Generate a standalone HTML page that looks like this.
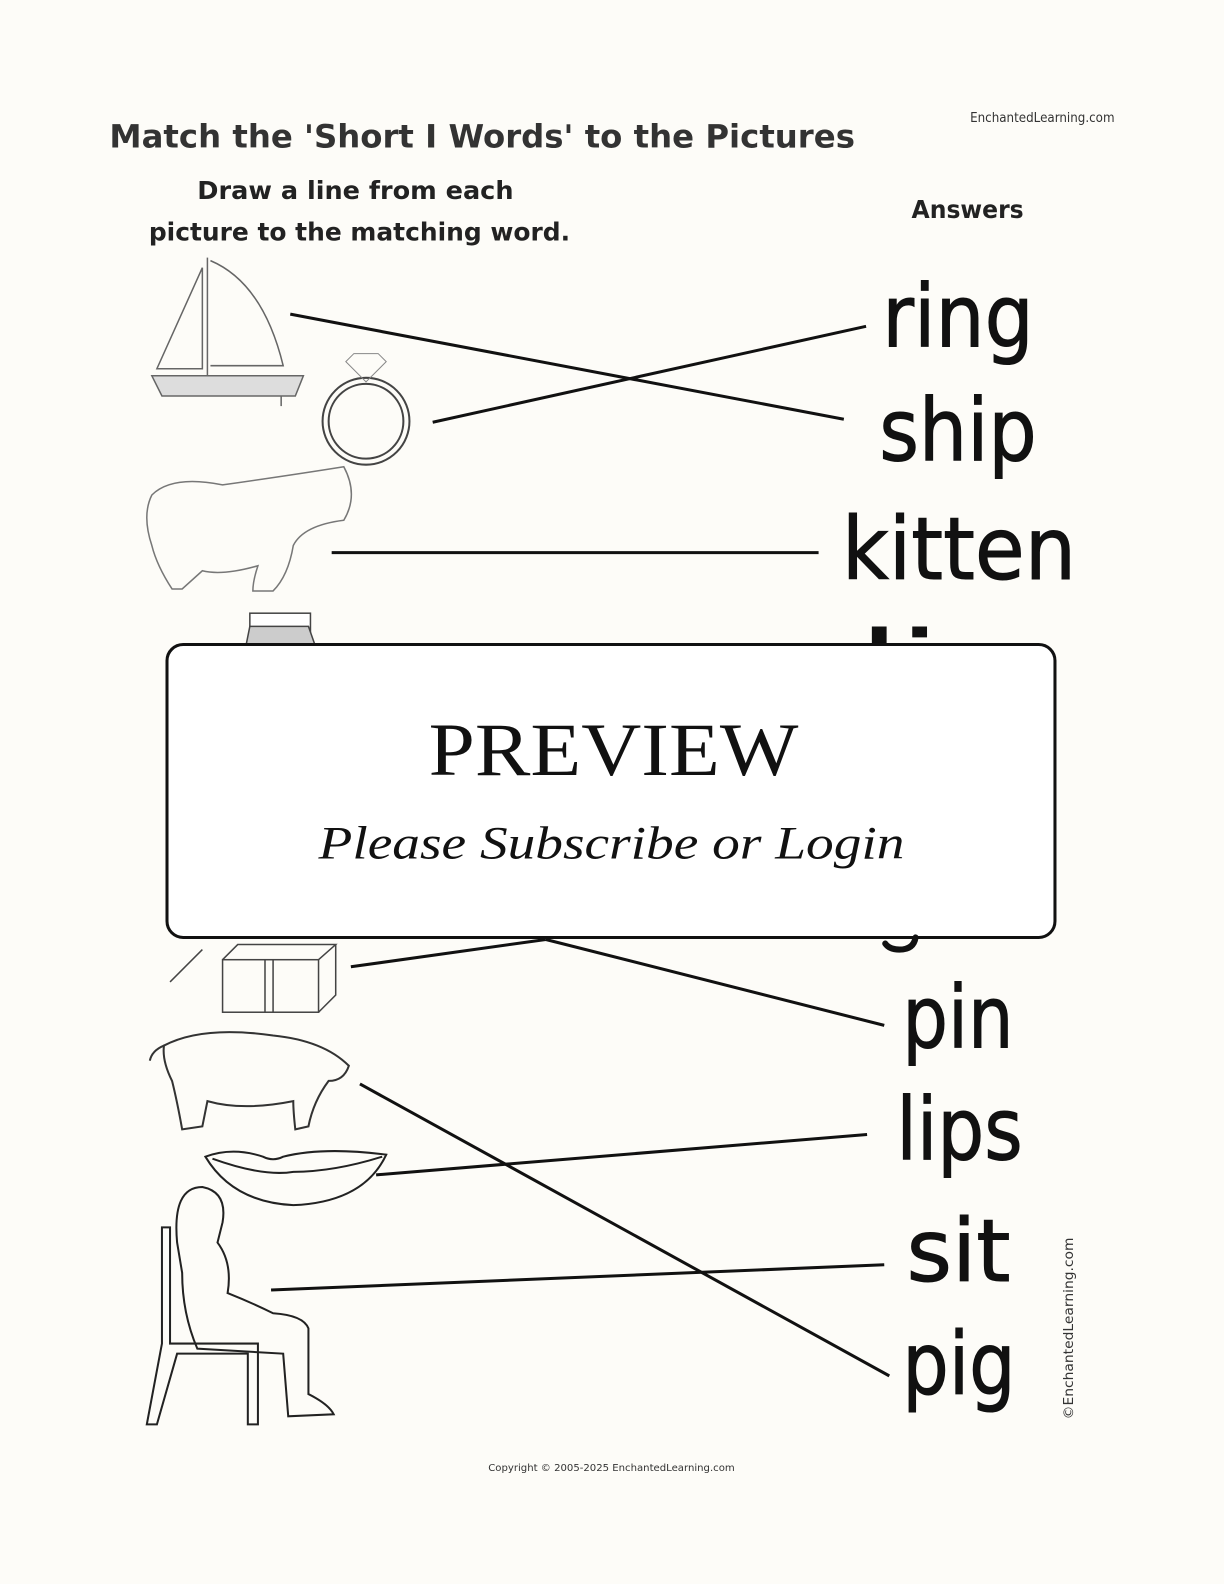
<!DOCTYPE html>
<html><head><meta charset="utf-8"><style>
html,body{margin:0;padding:0;background:#fdfcf8;}
svg{display:block;}
</style></head><body>
<svg width="1224" height="1584" viewBox="0 0 1211 1568" xmlns="http://www.w3.org/2000/svg">
<rect width="1211" height="1568" fill="#fdfcf8"/>
<g font-family="'DejaVu Sans','Liberation Sans',sans-serif" fill="#333">
<text x="108" y="146" font-size="32" font-weight="bold" textLength="738" lengthAdjust="spacingAndGlyphs">Match the 'Short I Words' to the Pictures</text>
<text x="960" y="121" font-size="13" textLength="143" lengthAdjust="spacingAndGlyphs">EnchantedLearning.com</text>
<text x="195" y="197" font-size="25" font-weight="bold" fill="#222" textLength="313" lengthAdjust="spacingAndGlyphs">Draw a line from each</text>
<text x="147" y="238" font-size="25" font-weight="bold" fill="#222" textLength="417" lengthAdjust="spacingAndGlyphs">picture to the matching word.</text>
<text x="902" y="216" font-size="25" font-weight="bold" fill="#222" textLength="111" lengthAdjust="spacingAndGlyphs">Answers</text>
</g>
<g font-family="'DejaVu Sans','Liberation Sans',sans-serif" fill="#111" stroke="#111" stroke-width="1" font-size="86">
<text x="873" y="343" textLength="150" lengthAdjust="spacingAndGlyphs">ring</text>
<text x="870" y="456" textLength="156" lengthAdjust="spacingAndGlyphs">ship</text>
<text x="833" y="573" textLength="232" lengthAdjust="spacingAndGlyphs">kitten</text>
<text x="850" y="686" textLength="80" lengthAdjust="spacingAndGlyphs">li</text>
<text x="893" y="1037" textLength="110" lengthAdjust="spacingAndGlyphs">pin</text>
<text x="887" y="1148" textLength="125" lengthAdjust="spacingAndGlyphs">lips</text>
<text x="897" y="1268" textLength="103" lengthAdjust="spacingAndGlyphs">sit</text>
<text x="893" y="1380" textLength="112" lengthAdjust="spacingAndGlyphs">pig</text>
</g>
<text transform="translate(1062,1405) rotate(-90)" font-family="'DejaVu Sans',sans-serif" font-size="13" fill="#333" textLength="180" lengthAdjust="spacingAndGlyphs">©EnchantedLearning.com</text>
<g stroke="#111" stroke-width="3" fill="none">
<line x1="287" y1="311" x2="835" y2="415"/>
<line x1="428" y1="418" x2="857" y2="323"/>
<line x1="328" y1="547" x2="810" y2="547"/>
<line x1="347" y1="957" x2="540" y2="930"/>
<line x1="540" y1="930" x2="875" y2="1015"/>
<line x1="356" y1="1073" x2="880" y2="1362"/>
<line x1="372" y1="1163" x2="858" y2="1123"/>
<line x1="268" y1="1277" x2="875" y2="1252"/>
</g>
<!-- book peeking -->
<g stroke="#444" stroke-width="1.5">
<rect x="247" y="607" width="60" height="20" fill="#fff"/>
<path d="M243 640 L247 620 L305 620 L312 640 Z" fill="#ccc"/>
</g>
<!-- boat -->
<g stroke="#666" stroke-width="1.5" fill="none">
<line x1="205" y1="255" x2="205" y2="380"/>
<path d="M200 265 L155 365 L200 365 Z"/>
<path d="M208 258 Q260 280 280 362 L208 362"/>
<path d="M150 372 L300 372 L292 392 L160 392 Z" fill="#ddd"/>
<line x1="278" y1="392" x2="278" y2="402"/>
</g>
<!-- ring -->
<g stroke="#444" stroke-width="2" fill="none">
<circle cx="362" cy="417" r="43"/>
<circle cx="362" cy="417" r="37"/>
<path d="M350 350 L374 350 L382 358 L362 378 L342 358 Z" stroke="#888" stroke-width="1"/>
</g>
<!-- cat -->
<g stroke="#777" stroke-width="1.5" fill="none">
<path d="M150 490 Q170 470 220 480 Q290 470 340 462 Q355 490 340 515 Q300 520 290 540 Q285 570 270 585 L250 585 Q250 575 255 560 Q220 570 200 565 L180 583 L170 583 Q155 560 150 540 Q140 510 150 490 Z"/>
</g>
<!-- gift -->
<g stroke="#444" stroke-width="1.5" fill="none">
<rect x="220" y="950" width="95" height="52"/>
<path d="M220 950 L235 935 L332 935 L315 950 M332 935 L332 985 L315 1002"/>
<line x1="262" y1="950" x2="262" y2="1002"/><line x1="270" y1="950" x2="270" y2="1002"/>
<line x1="168" y1="972" x2="200" y2="940"/>
</g>
<!-- pig -->
<g stroke="#333" stroke-width="2" fill="none">
<path d="M162 1035 Q200 1015 270 1025 Q320 1030 345 1055 Q340 1070 325 1070 Q310 1090 305 1115 L292 1118 Q290 1100 290 1090 Q240 1100 205 1090 L200 1115 L180 1118 Q175 1090 170 1070 Q160 1050 162 1035 Z"/>
<path d="M162 1035 Q150 1040 148 1050"/>
</g>
<!-- lips -->
<g stroke="#222" stroke-width="2" fill="none">
<path d="M203 1145 Q230 1135 260 1145 Q270 1150 280 1145 Q320 1135 382 1143 Q360 1190 290 1193 Q230 1190 203 1145 Z"/>
<path d="M210 1147 Q260 1165 290 1160 Q330 1160 378 1145"/>
</g>
<!-- girl on chair -->
<g stroke="#222" stroke-width="2" fill="none">
<path d="M160 1215 L168 1215 L168 1330 L255 1330 L255 1410 L245 1410 L245 1340 L175 1340 L155 1410 L145 1410 L160 1330 Z"/>
<path d="M175 1230 Q170 1175 200 1175 Q225 1180 220 1210 L215 1230 Q230 1250 225 1280 Q250 1290 270 1300 Q300 1302 305 1315 L305 1380 Q325 1390 330 1400 L285 1402 L280 1340 L195 1335 Q180 1300 180 1260 Z"/>
</g>
<!-- preview box -->
<rect x="165" y="638" width="879" height="290" rx="16" fill="#fff" stroke="#111" stroke-width="3"/>
<path d="M906 928 Q904 940 890 940 Q880 940 876 934" stroke="#111" stroke-width="6" fill="none" stroke-linecap="round"/>
<text x="607" y="767" text-anchor="middle" font-family="'Liberation Serif',serif" font-size="74" fill="#111" textLength="366" lengthAdjust="spacingAndGlyphs">PREVIEW</text>
<text x="605" y="850" text-anchor="middle" font-family="'Liberation Serif',serif" font-style="italic" font-size="46" fill="#111" textLength="580" lengthAdjust="spacingAndGlyphs">Please Subscribe or Login</text>
<text x="605" y="1456" text-anchor="middle" font-family="'DejaVu Sans',sans-serif" font-size="10" fill="#333" textLength="244" lengthAdjust="spacingAndGlyphs">Copyright © 2005-2025 EnchantedLearning.com</text>
</svg>
</body></html>
